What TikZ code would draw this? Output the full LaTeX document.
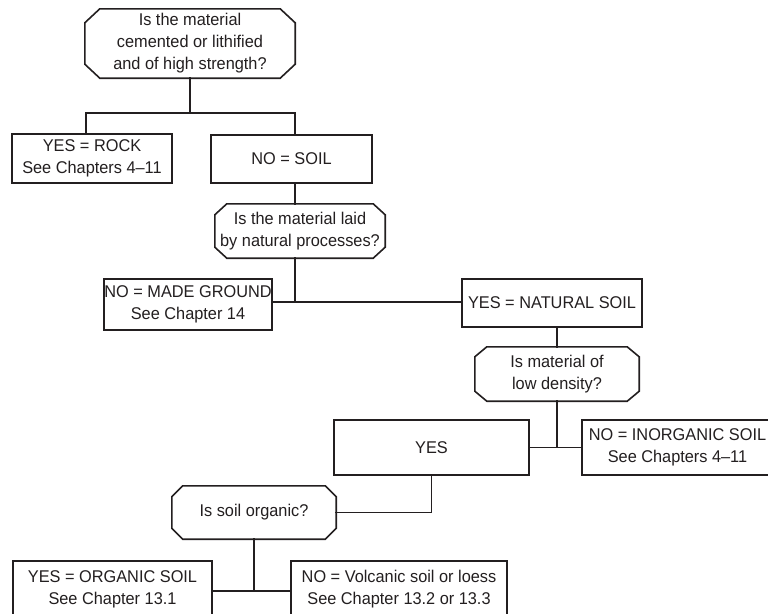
\documentclass[tikz,border=0pt]{standalone}
\usepackage{fontspec}
\setmainfont{Liberation Sans}[FakeStretch=0.96]
\usetikzlibrary{calc}
\definecolor{ink}{RGB}{35,31,32}

\begin{document}
\begin{tikzpicture}[x=1pt,y=-1pt,
  every node/.style={font=\fontsize{17}{22}\selectfont, text=ink, align=center, inner sep=0pt},
  conn/.style={draw=ink, line width=1.6pt, line cap=rect},
  box/.style 2 args={rectangle, draw=ink, line width=1.6pt, minimum width=#1, minimum height=#2},
  question/.style 2 args={rectangle, minimum width=#1, minimum height=#2}]

% frame of the page
\useasboundingbox (0,0) rectangle (768,613);
\fill[white] (0,0) rectangle (768,613);
\clip (0,0) rectangle (768,613);

% questions (drawn as octagons below)
\node[question={210pt}{69pt}] (q1) at (190,43.5) {Is the material\\cemented or lithified\\and of high strength?};
\node[question={170pt}{54pt}] (q2) at (300,231) {Is the material laid\\by natural processes?};
\node[question={164pt}{54pt}] (q3) at (557,374) {Is material of\\low density?};
\node[question={164pt}{53pt}] (q4) at (254,512.5) {Is soil organic?};

\foreach \n/\cx/\cy in {q1/15/14,q2/12/11,q3/12/10,q4/11/11}
  \draw[conn, line join=miter]
    ($(\n.north west)+(\cx,0)$) -- ($(\n.north east)+(-\cx,0)$) --
    ($(\n.north east)+(0,\cy)$) -- ($(\n.south east)+(0,-\cy)$) --
    ($(\n.south east)+(-\cx,0)$) -- ($(\n.south west)+(\cx,0)$) --
    ($(\n.south west)+(0,-\cy)$) -- ($(\n.north west)+(0,\cy)$) -- cycle;

% answers
\node[box={160pt}{49pt}] (rock) at (92,158.5) {YES = ROCK\\See Chapters 4--11};
\node[box={161pt}{48pt}] (soil) at (291.5,159) {NO = SOIL};
\node[box={168pt}{51pt}] (made) at (188,304.5) {NO = MADE GROUND\\See Chapter 14};
\node[box={180pt}{48pt}] (nat) at (552,303) {YES = NATURAL SOIL};
\node[box={195pt}{55pt}] (yes) at (431.5,447.5) {YES};
\node[box={191pt}{55pt}] (inorg) at (677.5,447.5) {NO = INORGANIC SOIL\\See Chapters 4--11};
\node[box={199pt}{56pt}] (org) at (112.5,589) {YES = ORGANIC SOIL\\See Chapter 13.1};
\node[box={216pt}{56pt}] (volc) at (399,589) {NO = Volcanic soil or loess\\See Chapter 13.2 or 13.3};

% junction points
\coordinate (jL) at (86,113);
\coordinate (jR) at (295,113);
\coordinate (j2) at (295,302);
\coordinate (j3) at (557,447);
\coordinate (j4) at (254,591);

% connectors
\draw[conn] (q1.south) -- (q1.south |- jL);
\draw[conn] (jL |- rock.north) -- (jL) -- (jR) -- (jR |- soil.north);
\draw[conn] (soil.south -| jR) -- (q2.north -| jR);
\draw[conn] (q2.south -| j2) -- (j2);
\draw[conn] (made.east |- j2) -- (nat.west |- j2);
\draw[conn] (nat.south -| q3.north) -- (q3.north);
\draw[conn] (q3.south) -- (j3);
\draw[conn] (yes.east) -- (inorg.west);
\draw[conn] (yes.south) |- (q4.east);
\draw[conn] (q4.south) -- (j4);
\draw[conn] (org.east |- j4) -- (volc.west |- j4);
\end{tikzpicture}
\end{document}
